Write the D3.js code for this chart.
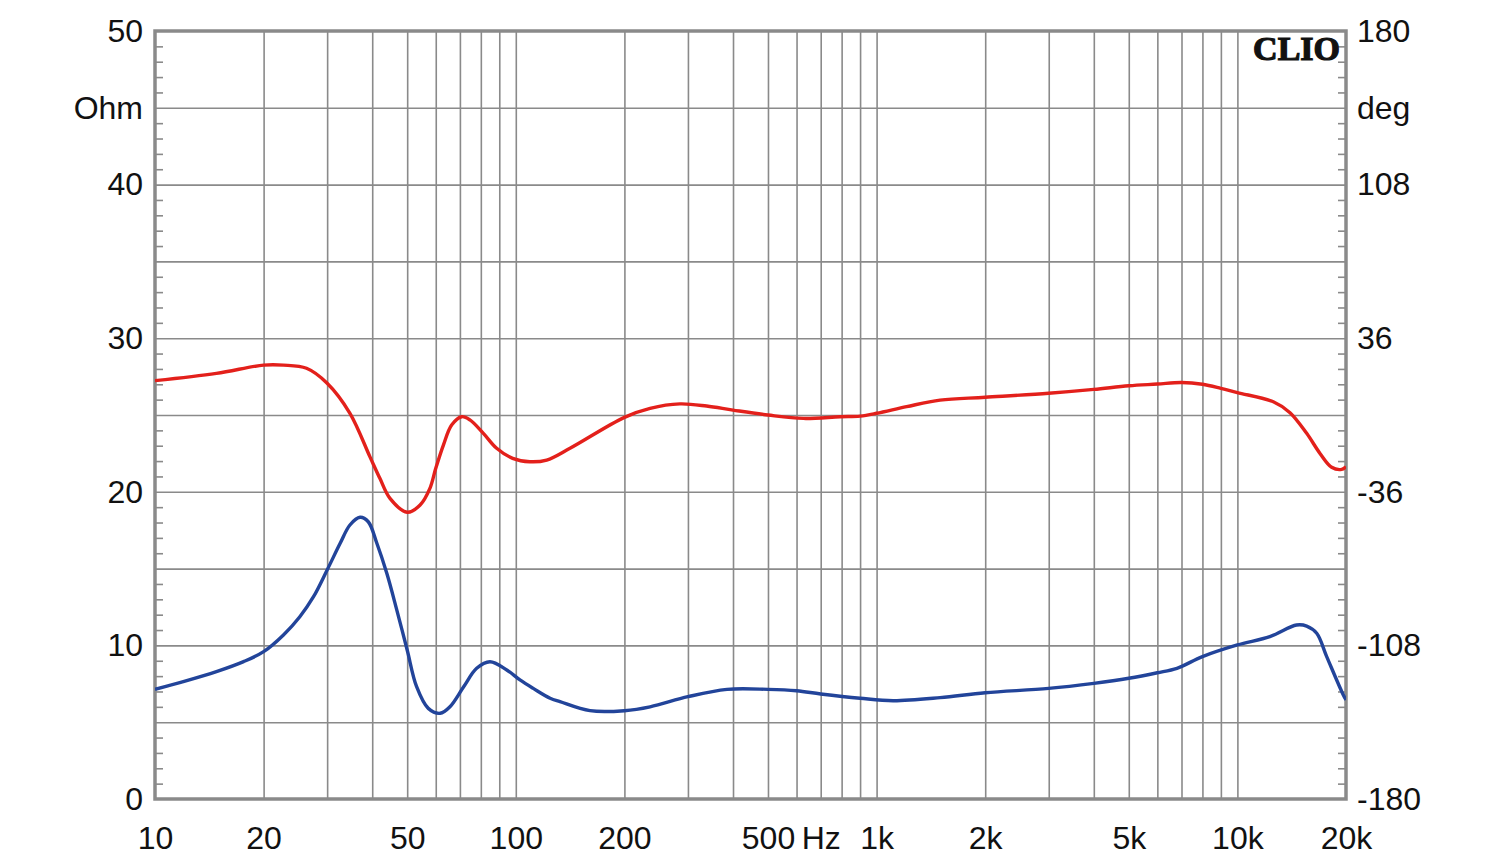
<!DOCTYPE html>
<html>
<head>
<meta charset="utf-8">
<script src="https://cdn.jsdelivr.net/npm/d3@7"></script>
<style>
  html, body { margin: 0; padding: 0; background: #fff; }
  svg { display: block; }
</style>
</head>
<body>
<svg id="chart" width="1500" height="864"></svg>
<script>
// ---- data ----
const impFreq = [10, 11.98, 14.8, 17.6, 20, 22.7, 25.2, 27.5, 30, 32.6, 34.7, 37.0, 39.0, 41.2, 43.9, 46.8, 50, 53.1, 57.2, 61.7, 65.7, 71.7, 77.9, 84.8, 94.4, 102.7, 111.8, 124.5, 132.6, 160.6, 200, 235.6, 300, 385, 500, 600, 700, 900, 1111, 1500, 2000, 3000, 4000, 5000, 6000, 6800, 8000, 10000, 12300, 14590, 15560, 16590, 17680, 19660, 20000];
const impOhm  = [7.14, 7.64, 8.29, 8.94, 9.59, 10.68, 11.87, 13.17, 14.91, 16.65, 17.84, 18.34, 18.05, 16.65, 14.69, 12.3, 9.7, 7.31, 5.9, 5.58, 6.01, 7.31, 8.51, 8.94, 8.4, 7.75, 7.2, 6.56, 6.34, 5.75, 5.75, 6.0, 6.66, 7.14, 7.14, 7.05, 6.84, 6.56, 6.4, 6.6, 6.92, 7.2, 7.53, 7.86, 8.22, 8.51, 9.27, 10.03, 10.57, 11.33, 11.26, 10.79, 9.27, 6.77, 6.45];

const phaseFreq = [10, 14.8, 20, 22.7, 26.3, 30, 34.7, 39.4, 42.0, 44.8, 50, 54.3, 57.8, 60, 63.0, 66.4, 70.8, 74.6, 81.3, 88.5, 98, 109.4, 121.8, 141.3, 200, 235.6, 285, 338, 400, 500, 626.6, 791.8, 900, 1000, 1211, 1500, 2000, 3000, 4000, 5000, 6000, 7000, 8000, 9000, 10000, 12576, 13990, 15560, 16940, 18250, 19450, 20000];
const phaseDeg  = [16.1, 19.5, 23.4, 23.4, 21.9, 14.9, 0.8, -19.5, -29.7, -39.1, -45.6, -42.2, -34.4, -25, -14.1, -4.7, -0.8, -2.3, -8.6, -15.6, -20.3, -21.9, -21.1, -15.6, -1.1, 3.1, 5.2, 4.2, 2.3, 0, -1.6, -0.8, -0.5, 0.8, 3.9, 7, 8.3, 10.2, 12, 13.7, 14.5, 15.2, 14.4, 12.5, 10.5, 6.2, 1.1, -8.6, -18, -24.5, -25.5, -24.2];

const xTickValues = [10, 20, 50, 100, 200, 500, 700, 1000, 2000, 5000, 10000, 20000];
const xTickLabels = ["10", "20", "50", "100", "200", "500", "Hz", "1k", "2k", "5k", "10k", "20k"];
const leftTickValues = [0, 10, 20, 30, 40, 45, 50];
const leftTickLabels = ["0", "10", "20", "30", "40", "Ohm", "50"];
const rightTickValues = [-180, -108, -36, 36, 108, 144, 180];
const rightTickLabels = ["-180", "-108", "-36", "36", "108", "deg", "180"];

// ---- layout ----
const L = 155, R = 1346, T = 31, B = 799;
const svg = d3.select("#chart");

const x = d3.scaleLog().domain([10, 20000]).range([L, R]);
const yL = d3.scaleLinear().domain([0, 50]).range([B, T]);
const yR = d3.scaleLinear().domain([-180, 180]).range([B, T]);

const gridColor = "#8a8a8a";
const sans = "'Liberation Sans', Arial, sans-serif";

// vertical grid
const vGrid = [];
[10, 100, 1000, 10000].forEach(d => { for (let k = 1; k <= 9; k++) { const v = d * k; if (v > 10 && v < 20000) vGrid.push(v); } });
const gx = svg.append("g").attr("transform", `translate(0,${B})`)
  .call(d3.axisBottom(x).tickValues(vGrid).tickSize(-(B - T)).tickFormat(""));
gx.select(".domain").remove();
gx.selectAll(".tick line").attr("stroke", gridColor).attr("stroke-width", 1.6);

// horizontal grid every 5 Ohm
const hGrid = d3.range(5, 50, 5);
const gy = svg.append("g").attr("transform", `translate(${L},0)`)
  .call(d3.axisLeft(yL).tickValues(hGrid).tickSize(-(R - L)).tickFormat(""));
gy.select(".domain").remove();
gy.selectAll(".tick line").attr("stroke", gridColor).attr("stroke-width", 1.6);

// minor ticks every 1 Ohm, inside on both sides
const minor = d3.range(1, 50).filter(v => v % 5 !== 0);
const gmL = svg.append("g").attr("transform", `translate(${L},0)`)
  .call(d3.axisRight(yL).tickValues(minor).tickSize(8).tickFormat(""));
gmL.select(".domain").remove();
gmL.selectAll(".tick line").attr("stroke", gridColor).attr("stroke-width", 1.6);
const gmR = svg.append("g").attr("transform", `translate(${R},0)`)
  .call(d3.axisLeft(yL).tickValues(minor).tickSize(8).tickFormat(""));
gmR.select(".domain").remove();
gmR.selectAll(".tick line").attr("stroke", gridColor).attr("stroke-width", 1.6);

// frame
svg.append("rect").attr("x", L).attr("y", T).attr("width", R - L).attr("height", B - T)
  .attr("fill", "none").attr("stroke", gridColor).attr("stroke-width", 3.5);

// axis labels
const fs = "32px";
function styleLabels(g) {
  g.select(".domain").remove();
  g.selectAll("text").style("font-size", fs).style("font-family", sans).attr("fill", "#111");
}
const axB = svg.append("g").attr("transform", `translate(0,${B})`)
  .call(d3.axisBottom(x).tickValues(xTickValues).tickSize(0).tickPadding(27)
    .tickFormat((d, i) => xTickLabels[i]));
styleLabels(axB);

const axL = svg.append("g").attr("transform", `translate(${L},0)`)
  .call(d3.axisLeft(yL).tickValues(leftTickValues).tickSize(0).tickPadding(12)
    .tickFormat((d, i) => leftTickLabels[i]));
styleLabels(axL);

const axR = svg.append("g").attr("transform", `translate(${R},0)`)
  .call(d3.axisRight(yR).tickValues(rightTickValues).tickSize(0).tickPadding(11)
    .tickFormat((d, i) => rightTickLabels[i]));
styleLabels(axR);

// curves
svg.append("clipPath").attr("id", "plotclip").append("rect")
  .attr("x", L).attr("y", T).attr("width", R - L).attr("height", B - T);

const phaseLine = d3.line().x(d => x(d[0])).y(d => yR(d[1])).curve(d3.curveCatmullRom.alpha(0.5));
const impLine = d3.line().x(d => x(d[0])).y(d => yL(d[1])).curve(d3.curveCatmullRom.alpha(0.5));

svg.append("path").datum(phaseFreq.map((f, i) => [f, phaseDeg[i]]))
  .attr("d", phaseLine).attr("fill", "none").attr("stroke", "#e3201b").attr("stroke-width", 3.4)
  .attr("stroke-linejoin", "round").attr("clip-path", "url(#plotclip)");
svg.append("path").datum(impFreq.map((f, i) => [f, impOhm[i]]))
  .attr("d", impLine).attr("fill", "none").attr("stroke", "#22449a").attr("stroke-width", 3.4)
  .attr("stroke-linejoin", "round").attr("clip-path", "url(#plotclip)");

// CLIO logo
svg.append("text").attr("x", R - 6).attr("y", 60).attr("text-anchor", "end")
  .style("font-family", "'Liberation Serif', 'Times New Roman', serif").style("font-weight", "bold")
  .style("font-size", "34px").attr("fill", "#111").attr("stroke", "#111").attr("stroke-width", 1.2)
  .text("CLIO");
</script>
</body>
</html>
